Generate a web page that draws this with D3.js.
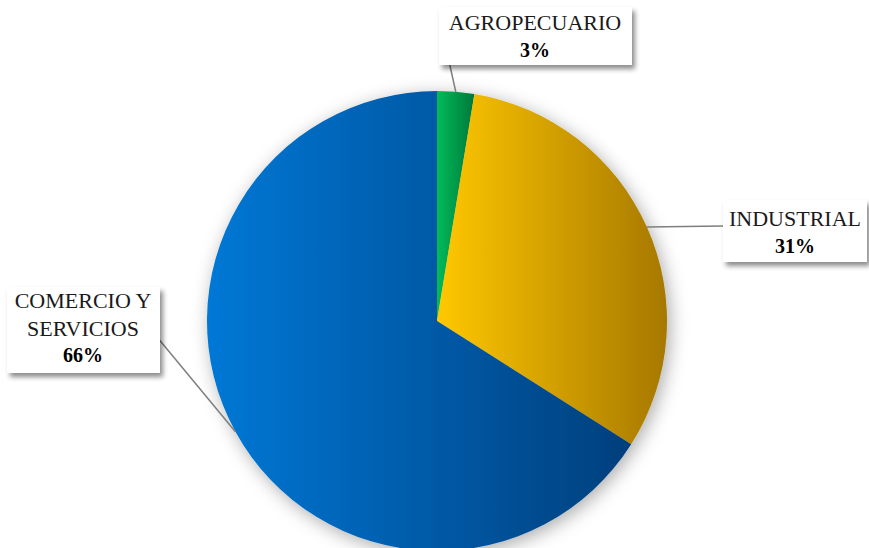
<!DOCTYPE html>
<html>
<head>
<meta charset="utf-8">
<script src="https://cdn.jsdelivr.net/npm/d3@7"></script>
<style>
  body { margin: 0; background: #fff; }
  svg { display: block; }
</style>
</head>
<body>
<script>
// Chart data
const categories = ["AGROPECUARIO", "INDUSTRIAL", "COMERCIO Y SERVICIOS"];
const values = [2.6, 31.4, 66.0];
const nameLines = [["AGROPECUARIO"], ["INDUSTRIAL"], ["COMERCIO Y", "SERVICIOS"]];
const colorStops = [
  ["#00bb58", "#00783c"],
  ["#ffc800", "#a67800"],
  ["#0078d6", "#003f7c"]
];

const width = 869, height = 548;
const cx = 437, cy = 321, radius = 230;

// label boxes (layout only)
const boxes = [
  { x: 439, y: 7, w: 193, h: 58, tx: 535, lineY: 30, anchor: [442, 30] },
  { x: 723, y: 200, w: 144, h: 62, tx: 795, lineY: 226, anchor: [723, 226] },
  { x: 7, y: 287, w: 153, h: 86, tx: 83, lineY: 308, anchor: [143, 337], elbow: [157, 337] }
];
const lineStep = 27.5;

const svg = d3.select("body").append("svg")
  .attr("width", width)
  .attr("height", height);

const defs = svg.append("defs");

const pieShadow = defs.append("filter").attr("id", "pieShadow")
  .attr("x", "-20%").attr("y", "-20%").attr("width", "140%").attr("height", "140%");
pieShadow.append("feDropShadow")
  .attr("dx", 3).attr("dy", 4).attr("stdDeviation", 9)
  .attr("flood-color", "#000").attr("flood-opacity", 0.33);

const boxShadow = defs.append("filter").attr("id", "boxShadow")
  .attr("x", "-20%").attr("y", "-30%").attr("width", "140%").attr("height", "160%");
boxShadow.append("feDropShadow")
  .attr("dx", 3).attr("dy", 4).attr("stdDeviation", 2.5)
  .attr("flood-color", "#000").attr("flood-opacity", 0.45);

colorStops.forEach((c, i) => {
  const g = defs.append("linearGradient").attr("id", "grad" + i)
    .attr("x1", "0%").attr("x2", "100%").attr("y1", "0%").attr("y2", "0%");
  g.append("stop").attr("offset", "0%").attr("stop-color", c[0]);
  g.append("stop").attr("offset", "100%").attr("stop-color", c[1]);
});

const pie = d3.pie().sort(null).value(d => d)(values);
const arc = d3.arc().innerRadius(0).outerRadius(radius);

const gPie = svg.append("g")
  .attr("transform", `translate(${cx},${cy})`)
  .attr("filter", "url(#pieShadow)");

gPie.selectAll("path")
  .data(pie)
  .enter()
  .append("path")
  .attr("d", arc)
  .attr("fill", (d, i) => `url(#grad${i})`);

// leader lines
pie.forEach((d, i) => {
  const b = boxes[i];
  const mid = (d.startAngle + d.endAngle) / 2;
  const px = cx + radius * Math.sin(mid);
  const py = cy - radius * Math.cos(mid);
  const pts = [b.anchor];
  if (b.elbow) pts.push(b.elbow);
  pts.push([px, py]);
  svg.append("path")
    .attr("d", d3.line()(pts))
    .attr("fill", "none")
    .attr("stroke", "#7f7f7f")
    .attr("stroke-width", 1.5);
});

// label boxes
const fmt = d3.format(".0f");
categories.forEach((name, i) => {
  const b = boxes[i];
  const g = svg.append("g");
  g.append("rect")
    .attr("x", b.x).attr("y", b.y)
    .attr("width", b.w).attr("height", b.h)
    .attr("fill", "#fff")
    .attr("filter", "url(#boxShadow)");
  const lines = nameLines[i];
  lines.forEach((t, j) => {
    g.append("text")
      .attr("x", b.tx).attr("y", b.lineY + j * lineStep)
      .attr("text-anchor", "middle")
      .attr("font-family", "'Liberation Serif', 'DejaVu Serif', serif")
      .attr("font-size", 22)
      .attr("fill", "#1a1a1a")
      .text(t);
  });
  g.append("text")
    .attr("x", b.tx).attr("y", b.lineY + lines.length * lineStep - 1)
    .attr("text-anchor", "middle")
    .attr("font-family", "'Liberation Serif', 'DejaVu Serif', serif")
    .attr("font-weight", "bold")
    .attr("font-size", 20)
    .attr("fill", "#000")
    .text(fmt(values[i]) + "%");
});
</script>
</body>
</html>
